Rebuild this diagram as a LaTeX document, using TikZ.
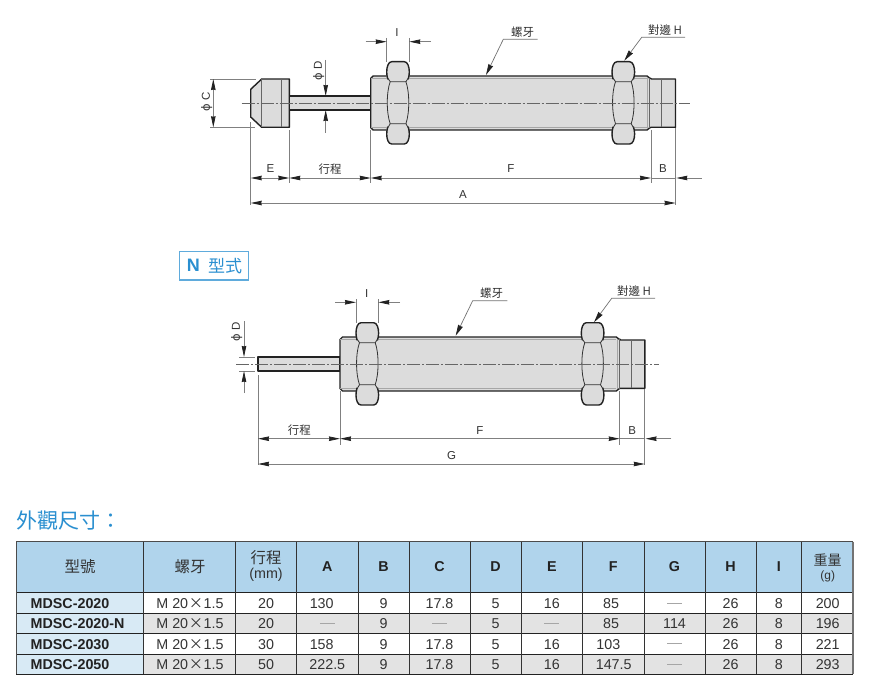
\documentclass[tikz,border=0pt]{standalone}
\usepackage{fontspec}
\setmainfont{Liberation Sans}
\newfontfamily\cjk{Noto Sans CJK TC}
\newfontfamily\djv{DejaVu Sans}
\usetikzlibrary{arrows.meta}
\definecolor{headblue}{HTML}{B0D4EC}
\definecolor{firstblue}{HTML}{D8EAF5}
\definecolor{rowgrey}{HTML}{E3E3E3}
\definecolor{bodygrey}{HTML}{DCDCDC}
\definecolor{titleblue}{HTML}{2A8FD0}
\definecolor{ink}{HTML}{222222}
\definecolor{txt}{HTML}{333333}
\newcommand{\fs}[1]{\fontsize{#1}{#1}\selectfont}
\tikzset{
  x=1pt,y=-1pt,
  ext/.style={draw=black!50,line width=.6pt},
  dimline/.style={draw=black!50,line width=.8pt},
  both/.style={dimline,{Stealth[length=11pt,width=4.5pt,inset=.5pt,color=ink,fill=ink]}-{Stealth[length=11pt,width=4.5pt,inset=.5pt,color=ink,fill=ink]}},
  toend/.style={dimline,-{Stealth[length=11pt,width=4.5pt,inset=.5pt,color=ink,fill=ink]}},
  leader/.style={draw=black!55,line width=.7pt,-{Stealth[length=11pt,width=5pt,inset=.5pt,color=ink,fill=ink]}},
  dimtxt/.style={inner sep=0pt,text=txt,font=\fs{11.5}},
  cjktxt/.style={inner sep=0pt,text=txt,font=\cjk\fs{11.5}},
  shape outline/.style={draw=ink,line width=1.4pt,fill=bodygrey,line join=round},
  thick edge/.style={draw=ink,line width=1.4pt,line cap=round,line join=round},
  fine/.style={draw=black!60,line width=.6pt},
  nutline/.style={draw=black!80,line width=.8pt},
  faint/.style={draw=black!35,line width=.5pt},
  centerl/.style={draw=black!60,line width=.7pt,dash pattern=on 13pt off 2pt on 2pt off 2pt},
  cell/.style={inner sep=0pt,text=txt,font=\fs{14.3}},
  boldcell/.style={inner sep=0pt,text=ink,font=\bfseries\fs{14.3}},
  headcjk/.style={inner sep=0pt,text=txt,font=\cjk\fs{15.5}},
  dashcell/.style={draw=black!35,line width=.8pt},
}
% one hexagon nut, left edge at #1: heavy end caps, thin bowed flats between them
\newcommand{\hexnut}[1]{%
  \fill[bodygrey] (#1+5,61.7) -- (#1+17.6,61.7) .. controls (#1+21,61.7) and (#1+22.6,67) .. (#1+22.6,72)
     -- (#1+22.6,134) .. controls (#1+22.6,139) and (#1+21,144) .. (#1+17.6,144)
     -- (#1+5,144) .. controls (#1+1.6,144) and (#1,139) .. (#1,134)
     -- (#1,72) .. controls (#1,67) and (#1+1.6,61.7) .. (#1+5,61.7) -- cycle;
  \draw[thick edge] (#1+1,79) .. controls (#1+.3,76) and (#1,74) .. (#1,72) .. controls (#1,67) and (#1+1.6,61.7) .. (#1+5,61.7) -- (#1+17.6,61.7) .. controls (#1+21,61.7) and (#1+22.6,67) .. (#1+22.6,72) .. controls (#1+22.6,74) and (#1+22.3,76) .. (#1+21.6,79);
  \draw[thick edge] (#1+1,127) .. controls (#1+.3,130) and (#1,132) .. (#1,134) .. controls (#1,139) and (#1+1.6,144) .. (#1+5,144) -- (#1+17.6,144) .. controls (#1+21,144) and (#1+22.6,139) .. (#1+22.6,134) .. controls (#1+22.6,132) and (#1+22.3,130) .. (#1+21.6,127);
  \draw[nutline] (#1+1,78) -- (#1+3.5,81.7) -- (#1+19.2,81.7) -- (#1+21.6,78);
  \draw[nutline] (#1+1,128) -- (#1+3.5,123.7) -- (#1+19.2,123.7) -- (#1+21.6,128);
  \draw[nutline] (#1+3.5,81.7) .. controls (#1-.4,92) and (#1-.4,113) .. (#1+3.5,123.7);
  \draw[nutline] (#1+19.2,81.7) .. controls (#1+23,92) and (#1+23,113) .. (#1+19.2,123.7);
}
% threaded body common to both views
\newcommand{\shockbody}{%
  \draw[shape outline] (370.7,78.5) -- (373.2,76) -- (647,76) -- (649.5,78) -- (651,78.5) -- (651,79) -- (675.5,79) -- (675.5,127.3) -- (651,127.3) -- (649.5,128) -- (647,130) -- (373.2,130) -- (370.7,127.5) -- cycle;
  \draw[faint] (370.7,78.6) -- (647,78.6) (370.7,127.6) -- (647,127.6);
  \draw[fine] (649.5,78) -- (649.5,128) (661.7,79) -- (661.7,127.3);
  \draw[faint] (647.5,78) -- (647.5,128);
  \hexnut{386.7}
  \hexnut{612}
}
\begin{document}
\begin{tikzpicture}
\useasboundingbox (0,0) rectangle (885,684);
\fill[white] (0,0) rectangle (885,684);

% ---------- upper view ----------
\draw[shape outline] (250.7,89.3) -- (261.7,79) -- (289.3,79) -- (289.3,127.3) -- (261.7,127.3) -- (250.7,117) -- cycle;
\draw[fine] (261.7,79) -- (261.7,127.3) (281,79) -- (281,127.3);
\draw[shape outline,line width=1.2pt] (289.3,96) rectangle (370.7,110);
\shockbody
\draw[centerl] (241.7,103) -- (690,103);
% extension lines
\coordinate (eA) at (250.7,122); \coordinate (eAb) at (250.7,205);
\coordinate (eE) at (289.3,130); \coordinate (eEb) at (289.3,183);
\coordinate (eS) at (370.7,130); \coordinate (eSb) at (370.7,183);
\coordinate (eF) at (651,130);   \coordinate (eFb) at (651,183);
\coordinate (eB) at (675.5,128); \coordinate (eBb) at (675.5,205);
\draw[ext] (eA) -- (eAb) (eE) -- (eEb) (eS) -- (eSb) (eF) -- (eFb) (eB) -- (eBb);
\draw[ext] (210,79) -- (256,79) (210,127.3) -- (255,127.3);
\draw[ext] (386.7,38) -- (386.7,62) (409.3,38) -- (409.3,62);
% dimensions
\draw[both] (250.7,178) -- (289.3,178);
\draw[both] (289.3,178) -- (370.7,178);
\draw[both] (370.7,178) -- (651,178);
\draw[dimline] (651,178) -- (676,178);
\draw[toend] (701.7,178) -- (676.3,178);
\draw[both] (250.7,203) -- (675.5,203);
\draw[toend] (365.7,41.7) -- (386.7,41.7);
\draw[toend] (431,41.7) -- (409.3,41.7);
\draw[toend] (325.7,60) -- (325.7,96);
\draw[toend] (325.7,132.7) -- (325.7,110);
\draw[both] (213.3,79) -- (213.3,127.3);
\node[dimtxt] (tE) at (270.5,169) {E};
\node[cjktxt] (tS) at (330,169.5) {行程};
\node[dimtxt] (tF) at (511,169) {F};
\node[dimtxt] (tB) at (663,169) {B};
\node[dimtxt] (tA) at (463,195) {A};
\node[dimtxt] (tI) at (397,33) {I};
\node[dimtxt,rotate=90] (tD) at (318.7,71) {{\djv ϕ} D};
\node[dimtxt,rotate=90] (tC) at (206.7,101.7) {{\djv ϕ} C};
% leaders
\node[cjktxt] (tT) at (522.7,31.7) {螺牙};
\node[cjktxt] (tH) at (665,30) {對邊 H};
\coordinate (lT) at (537.7,39.3); \coordinate (kT) at (503.3,39.3); \coordinate (aT) at (486,75);
\coordinate (lH) at (685,37.3); \coordinate (kH) at (641.7,37.3); \coordinate (aH) at (624.3,60.7);
\draw[leader] (lT) -- (kT) -- (aT);
\draw[leader] (lH) -- (kH) -- (aH);

% ---------- N type badge ----------
\node[draw=titleblue!75,line width=1.1pt,fill=white,minimum width=69.4pt,minimum height=28.3pt,inner sep=0pt] (badge) at (214,265.9) {};
\node[inner sep=0pt,text=titleblue,font=\bfseries\fs{18}] (badgeN) at (193.3,265.7) {N};
\node[inner sep=0pt,text=titleblue,font=\cjk\fs{17}] (badgeT) at (225,265.7) {型式};

% ---------- lower view ----------
\draw[shape outline,line width=1.2pt] (258,357) rectangle (340,371);
\begin{scope}[shift={(-30.7,261)}]
\shockbody
\end{scope}
\draw[centerl] (236,364) -- (659,364);
\coordinate (fA) at (258,375); \coordinate (fAb) at (258,465);
\coordinate (fS) at (340,391); \coordinate (fSb) at (340,445);
\coordinate (fF) at (619.7,391); \coordinate (fFb) at (619.7,445);
\coordinate (fB) at (644.7,389); \coordinate (fBb) at (644.7,465);
\draw[ext] (fA) -- (fAb) (fS) -- (fSb) (fF) -- (fFb) (fB) -- (fBb);
\draw[ext] (239,357) -- (255,357) (239,371) -- (255,371);
\draw[ext] (356,299) -- (356,323) (378.3,299) -- (378.3,323);
\draw[both] (258,438.7) -- (340,438.7);
\draw[both] (340,438.7) -- (619.7,438.7);
\draw[dimline] (619.7,438.7) -- (645,438.7);
\draw[toend] (671.3,438.7) -- (645.5,438.7);
\draw[both] (258,464) -- (644.7,464);
\draw[toend] (335,302.3) -- (356,302.3);
\draw[toend] (400,302.3) -- (378.3,302.3);
\draw[toend] (244,321) -- (244,357);
\draw[toend] (244,393) -- (244,371);
\node[cjktxt] (uS) at (299.3,430.5) {行程};
\node[dimtxt] (uF) at (480,430.3) {F};
\node[dimtxt] (uB) at (632.3,430.3) {B};
\node[dimtxt] (uG) at (451.7,455.7) {G};
\node[dimtxt] (uI) at (366.7,294) {I};
\node[dimtxt,rotate=90] (uD) at (236.7,331.7) {{\djv ϕ} D};
\node[cjktxt] (uT) at (491.7,293.3) {螺牙};
\node[cjktxt] (uH) at (634,290.7) {對邊 H};
\coordinate (mT) at (507.3,300.7); \coordinate (nT) at (472.7,300.7); \coordinate (bT) at (455.7,335.7);
\coordinate (mH) at (655,298.3); \coordinate (nH) at (611.7,298.3); \coordinate (bH) at (594,322.3);
\draw[leader] (mT) -- (nT) -- (bT);
\draw[leader] (mH) -- (nH) -- (bH);

% ---------- table ----------
\node[inner sep=0pt,anchor=west,text=titleblue,font=\cjk\fs{21}] (title) at (16,521) {外觀尺寸：};
\fill[headblue] (16,541.7) rectangle (853,592.7);
\fill[firstblue] (16,592.7) rectangle (143,674.3);
\fill[rowgrey] (143,613) rectangle (853,633.7);
\fill[rowgrey] (143,654) rectangle (853,674.3);
\foreach \yy in {592.7,613,633.7,654} \draw[ink,line width=.8pt] (16,\yy) -- (853,\yy);
\draw[black!70,line width=1.1pt] (16,541.7) -- (853,541.7);
\draw[ink,line width=1pt] (16,674.3) -- (853,674.3);
\foreach \xx in {143,235.7,296.7,358,409,470,521,582.7,644,705,756,801.7} \draw[line width=.9pt,black!80] (\xx,541.7) -- (\xx,674.3);
\draw[black!70,line width=1pt] (16,541.7) -- (16,674.3);
\draw[black!55,line width=1.3pt] (853,541.7) -- (853,674.3);

\node[headcjk] (h1) at (80,567) {型號};
\node[headcjk] (h2) at (190,567) {螺牙};
\node[headcjk] (h3) at (266,558) {行程};
\node[cell] (h3b) at (266,575) {(mm)};
\foreach \nm/\xx/\lbl in {hA/327.3/A,hB/383.5/B,hC/439.5/C,hD/495.5/D,hE/551.8/E,hF/613.3/F,hG/674.5/G,hH/730.5/H,hI/778.8/I}
  \node[boldcell] (\nm) at (\xx,567) {\lbl};
\node[inner sep=0pt,text=txt,font=\cjk\fs{14}] (h4) at (827.7,560.5) {重量};
\node[inner sep=0pt,text=txt,font=\fs{12}] (h4b) at (827.7,576) {(g)};

% first three columns
\newcommand{\thread}[2]{\node[cell] (#1) at (190,#2) {M 20\hspace{.6pt}{\cjk\fs{14.3}×}\hspace{.6pt}1.5};}
\foreach \nm/\yy/\lbl in {a/603.7/MDSC-2020,b/624/MDSC-2020-N,c/644.5/MDSC-2030,d/664.7/MDSC-2050}{
  \node[boldcell,anchor=west] (m\nm) at (30.5,\yy) {\lbl};
  \thread{t\nm}{\yy}
}
% value cells: name/x/y/text
\foreach \nm/\xx/\yy/\lbl in {
 sa/266/603.7/20, sb/266/624/20, sc/266/644.5/30, sd/266/664.7/50,
 aa/321.7/603.7/130, ac/321.7/644.5/158, ad/327.3/664.7/222.5,
 ba/383.5/603.7/9, bb/383.5/624/9, bc/383.5/644.5/9, bd/383.5/664.7/9,
 ca/439.5/603.7/17.8, cc/439.5/644.5/17.8, cd/439.5/664.7/17.8,
 da/495.5/603.7/5, db/495.5/624/5, dc/495.5/644.5/5, dd/495.5/664.7/5,
 ea/551.8/603.7/16, ec/551.8/644.5/16, ed/551.8/664.7/16,
 fa/611/603.7/85, fb/611/624/85, fc/608.3/644.5/103, fd/613.7/664.7/147.5,
 gb/674.5/624/114,
 ha/730.5/603.7/26, hb/730.5/624/26, hc/730.5/644.5/26, hd/730.5/664.7/26,
 ia/778.8/603.7/8, ib/778.8/624/8, ic/778.8/644.5/8, id/778.8/664.7/8,
 wa/827.7/603.7/200, wb/827.7/624/196, wc/827.7/644.5/221, wd/827.7/664.7/293}
  \node[cell] (\nm) at (\xx,\yy) {\lbl};
% dashes for absent values
\foreach \xx/\yy in {327.3/623.3,439.5/623.3,551.8/623.3,674.5/603,674.5/643.8,674.5/664}
  \draw[dashcell] (\xx-7.5,\yy) -- (\xx+7.5,\yy);
\end{tikzpicture}
\end{document}
